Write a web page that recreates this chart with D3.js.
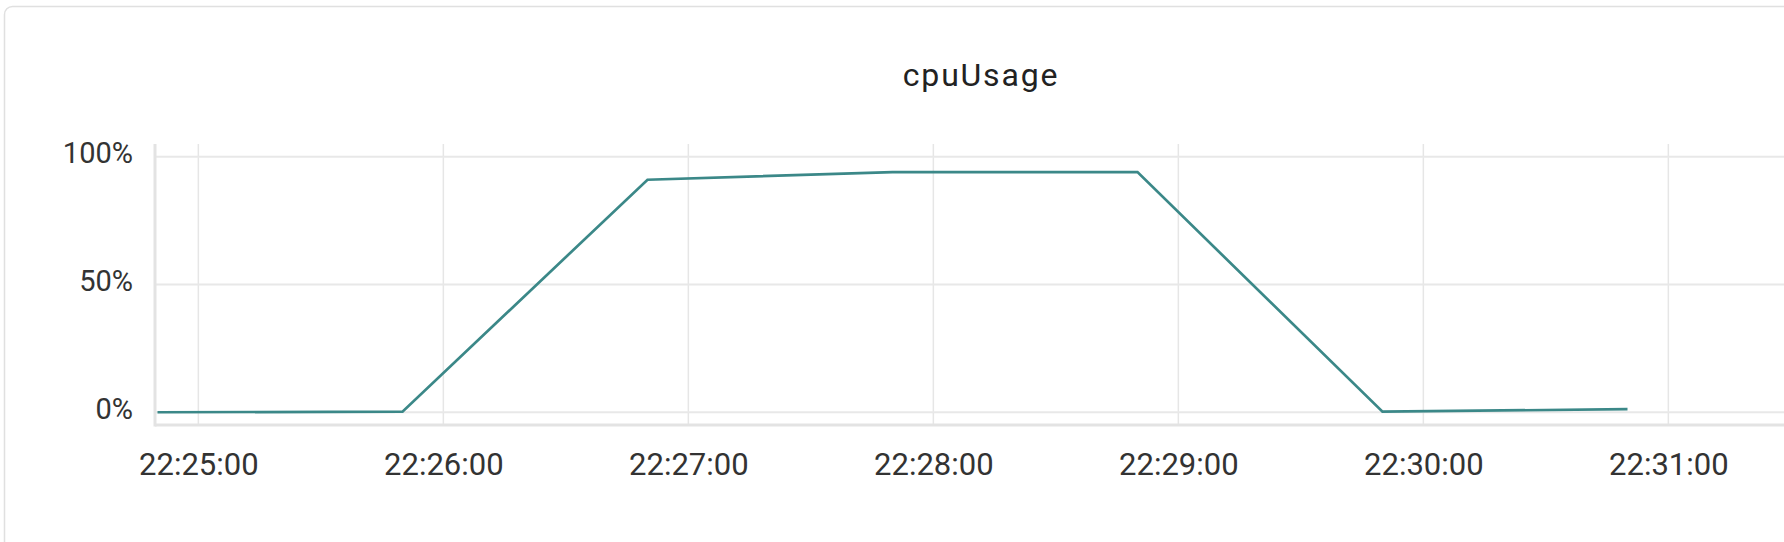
<!DOCTYPE html>
<html>
<head>
<meta charset="utf-8">
<script src="https://cdn.jsdelivr.net/npm/d3@7"></script>
<style>
  html, body { margin: 0; padding: 0; background: #fff; overflow: hidden; }
  svg { display: block; font-family: Roboto, "Noto Sans", sans-serif; }
</style>
</head>
<body>
<svg id="chart" width="1784" height="542"></svg>
<script>
// ---- data ----
const chartTitle = "cpuUsage";
const times = ["22:24:50", "22:25:50", "22:26:50", "22:27:50", "22:28:50", "22:29:50", "22:30:50"];
const cpuValues = [0, 0.2, 91, 94, 94, 0.2, 1.2];
const yTickValues = [0, 50, 100];
const xTickTimes = ["22:25:00", "22:26:00", "22:27:00", "22:28:00", "22:29:00", "22:30:00", "22:31:00"];

// ---- layout ----
const W = 1784, H = 542;
const plot = { left: 156, top: 144, bottom: 425 };
const pxPerMinute = 245;
const parse = d3.timeParse("%Y-%m-%d %H:%M:%S");
const day = "2024-01-01 ";
const data = times.map((t, i) => ({ t: parse(day + t), v: cpuValues[i] }));

const t0 = data[0].t;
const tEnd = d3.timeMinute.offset(t0, 7);
const x = d3.scaleTime().domain([t0, tEnd]).range([157.5, 157.5 + 7 * pxPerMinute]);
const y = d3.scaleLinear().domain([-5, 105]).range([plot.bottom, plot.top]);

const svg = d3.select("#chart");

// card
svg.append("rect")
  .attr("x", 4.5).attr("y", 6.5)
  .attr("width", W + 40).attr("height", H + 40)
  .attr("rx", 8).attr("ry", 8)
  .attr("fill", "#fff").attr("stroke", "#e0e0e0").attr("stroke-width", 1.5);

// title
svg.append("text")
  .attr("x", 981).attr("y", 78)
  .attr("text-anchor", "middle").attr("dominant-baseline", "middle")
  .attr("font-size", 32).attr("letter-spacing", 1.8)
  .attr("fill", "#222")
  .text(chartTitle);

const xTicks = xTickTimes.map(s => parse(day + s));

// vertical grid
svg.append("g").selectAll("line").data(xTicks).join("line")
  .attr("x1", d => x(d)).attr("x2", d => x(d))
  .attr("y1", plot.top).attr("y2", plot.bottom)
  .attr("stroke", "#e6e6e6").attr("stroke-width", 1.5);

// horizontal grid
svg.append("g").selectAll("line").data(yTickValues).join("line")
  .attr("x1", plot.left).attr("x2", W + 10)
  .attr("y1", d => y(d)).attr("y2", d => y(d))
  .attr("stroke", "#e8e8e8").attr("stroke-width", 2);

// axis lines
svg.append("line")
  .attr("x1", plot.left - 1).attr("x2", W + 10)
  .attr("y1", plot.bottom).attr("y2", plot.bottom)
  .attr("stroke", "#e3e3e3").attr("stroke-width", 3);
svg.append("line")
  .attr("x1", plot.left - 1).attr("x2", plot.left - 1)
  .attr("y1", plot.top).attr("y2", plot.bottom + 1.5)
  .attr("stroke", "#e3e3e3").attr("stroke-width", 3);

// x axis labels
const fmt = d3.timeFormat("%H:%M:%S");
const xAxis = d3.axisBottom(x).tickValues(xTicks).tickFormat(fmt).tickSize(0).tickPadding(0);
const gx = svg.append("g").attr("transform", `translate(0, ${plot.bottom + 39})`).call(xAxis);
gx.select(".domain").remove();
gx.selectAll("text").attr("font-size", 31).attr("fill", "#333")
  .attr("font-family", "Roboto, sans-serif").attr("dy", "0.35em").attr("y", 0);

// y axis labels
const yAxis = d3.axisLeft(y).tickValues(yTickValues).tickFormat(d => d + "%").tickSize(0).tickPadding(0);
const gy = svg.append("g").attr("transform", `translate(133, 0)`).call(yAxis);
gy.select(".domain").remove();
gy.selectAll("text").attr("font-size", 29).attr("fill", "#333")
  .attr("font-family", "Roboto, sans-serif").attr("dy", "0.2em");

// line
const line = d3.line().x(d => x(d.t)).y(d => y(d.v));
svg.append("path").datum(data)
  .attr("d", line)
  .attr("fill", "none")
  .attr("stroke", "#3b8888")
  .attr("stroke-width", 2.7)
  .attr("stroke-linejoin", "miter");
</script>
</body>
</html>
